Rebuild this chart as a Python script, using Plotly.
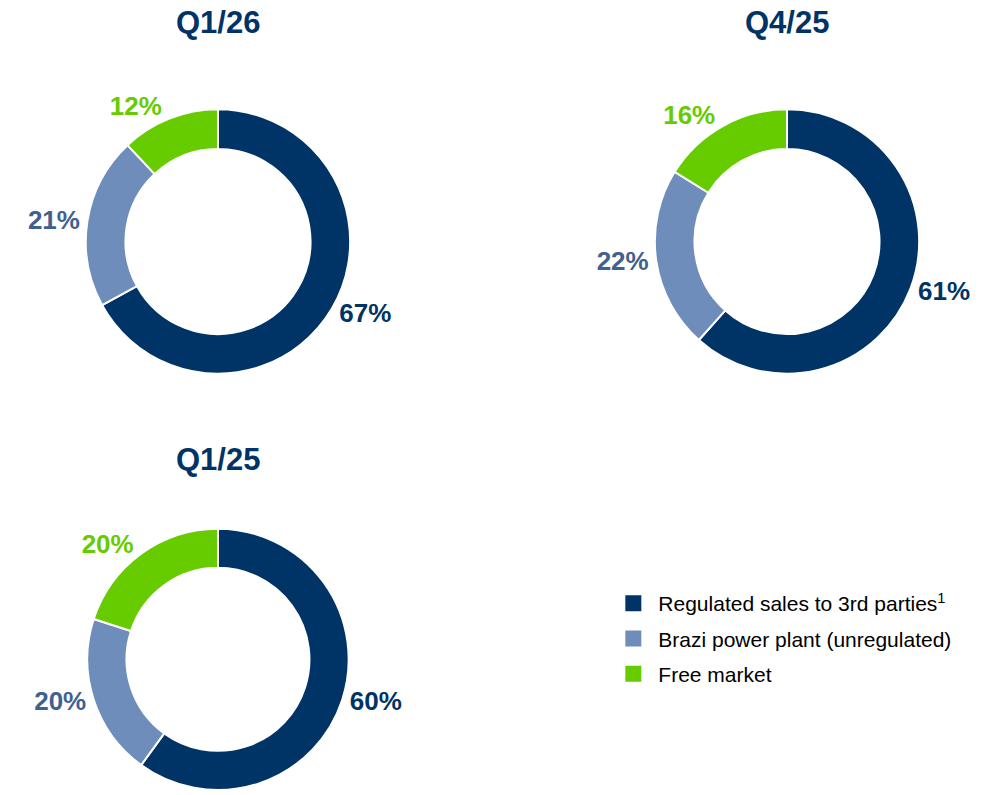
import plotly.graph_objects as go

# ---- data ----
categories = ["Regulated sales to 3rd parties<sup>1</sup>",
              "Brazi power plant (unregulated)",
              "Free market"]
periods = ["Q1/26", "Q4/25", "Q1/25"]
q1_26 = [67, 21, 12]
q4_25 = [61, 22, 16]
q1_25 = [60, 20, 20]
series = [q1_26, q4_25, q1_25]

slice_colors = ["#003366", "#6E8DBA", "#66CC00"]
label_colors = ["#003366", "#3F6190", "#66CC00"]
navy = "#003366"
FONT = "Liberation Sans, Arial, sans-serif"

domains = [
    dict(x=[0.0855, 0.3531], y=[0.5270, 0.8616]),
    dict(x=[0.6580, 0.9255], y=[0.5270, 0.8616]),
    dict(x=[0.0855, 0.3531], y=[0.0, 0.3308]),
]

fig = go.Figure()
for vals, dom in zip(series, domains):
    fig.add_trace(go.Pie(
        labels=categories, values=vals, hole=0.70, sort=False,
        direction="clockwise", rotation=0, domain=dom,
        marker=dict(colors=slice_colors, line=dict(color="white", width=2)),
        textposition="outside", texttemplate="<b>%{value}%</b>",
        textfont=dict(family=FONT, size=26, color=label_colors),
        showlegend=False, hoverinfo="label+value",
    ))

# legend entries
for i, (cat, col) in enumerate(zip(categories, slice_colors)):
    fig.add_trace(go.Scatter(
        x=[None], y=[None], mode="markers", name=cat,
        legendgroup=f"g{i}",
        marker=dict(symbol="square", size=16, color=col),
        showlegend=True,
    ))

title_pos = [(0.2193, 0.972), (0.7918, 0.972), (0.2193, 0.418)]
for p, (x, y) in zip(periods, title_pos):
    fig.add_annotation(text=f"<b>{p}</b>", x=x, y=y, xref="paper", yref="paper",
                       showarrow=False, xanchor="center", yanchor="middle",
                       font=dict(family=FONT, size=31, color=navy))

fig.update_layout(
    width=994, height=795,
    margin=dict(l=0, r=0, t=0, b=0),
    paper_bgcolor="white", plot_bgcolor="white",
    xaxis=dict(visible=False), yaxis=dict(visible=False),
    legend=dict(x=0.612, y=0.262, xanchor="left", yanchor="top",
                font=dict(family=FONT, size=21, color="#000000"),
                tracegroupgap=5, itemsizing="trace", itemwidth=40,
                bgcolor="rgba(0,0,0,0)"),
)

fig.write_html("out.html", config={"displayModeBar": False},
               post_script="document.body.style.margin='0px';")
